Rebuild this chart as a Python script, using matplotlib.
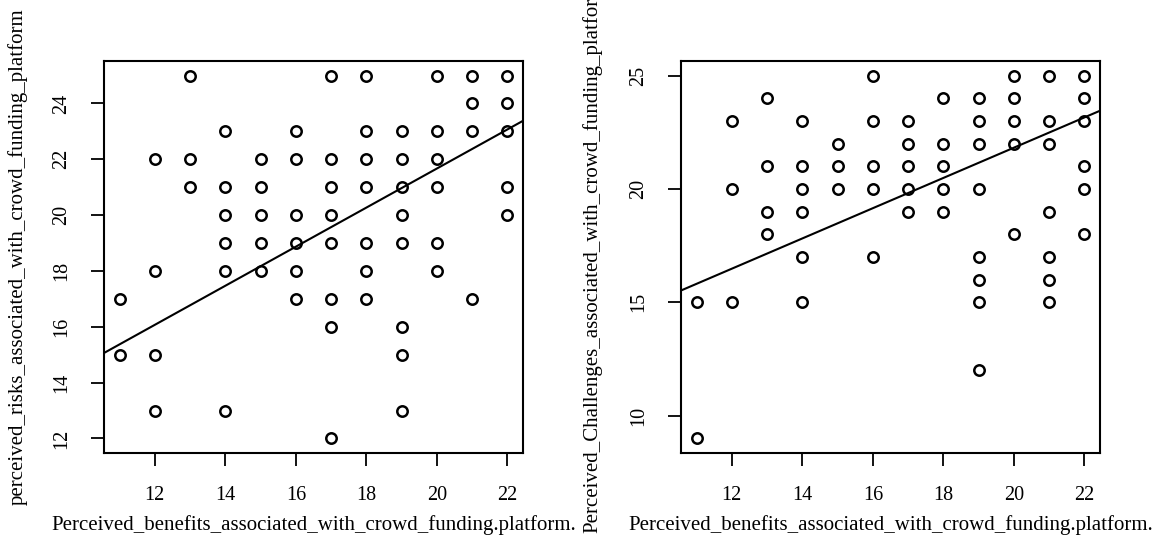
import matplotlib
matplotlib.use("Agg")
import matplotlib.pyplot as plt

plt.rcParams['font.family'] = ['Liberation Serif', 'DejaVu Serif']

# Perceived benefits (x) vs perceived risks (y), left panel
risk_x = [11, 11,
          12, 12, 12, 12,
          13, 13, 13,
          14, 14, 14, 14, 14, 14,
          15, 15, 15, 15, 15,
          16, 16, 16, 16, 16, 16,
          17, 17, 17, 17, 17, 17, 17, 17,
          18, 18, 18, 18, 18, 18, 18,
          19, 19, 19, 19, 19, 19, 19, 19,
          20, 20, 20, 20, 20, 20,
          21, 21, 21, 21,
          22, 22, 22, 22, 22]
risk_y = [17, 15,
          22, 18, 15, 13,
          25, 22, 21,
          23, 21, 20, 19, 18, 13,
          22, 21, 20, 19, 18,
          23, 22, 20, 19, 18, 17,
          25, 22, 21, 20, 19, 17, 16, 12,
          25, 23, 22, 21, 19, 18, 17,
          23, 22, 21, 20, 19, 16, 15, 13,
          25, 23, 22, 21, 19, 18,
          25, 24, 23, 17,
          25, 24, 23, 21, 20]

# Perceived benefits (x) vs perceived challenges (y), right panel
chal_x = [11, 11,
          12, 12, 12,
          13, 13, 13, 13,
          14, 14, 14, 14, 14, 14,
          15, 15, 15,
          16, 16, 16, 16, 16,
          17, 17, 17, 17, 17,
          18, 18, 18, 18, 18,
          19, 19, 19, 19, 19, 19, 19, 19,
          20, 20, 20, 20, 20,
          21, 21, 21, 21, 21, 21, 21,
          22, 22, 22, 22, 22, 22]
chal_y = [15, 9,
          23, 20, 15,
          24, 21, 19, 18,
          23, 21, 20, 19, 17, 15,
          22, 21, 20,
          25, 23, 21, 20, 17,
          23, 22, 21, 20, 19,
          24, 22, 21, 20, 19,
          24, 23, 22, 20, 17, 16, 15, 12,
          25, 24, 23, 22, 18,
          25, 23, 22, 19, 17, 16, 15,
          25, 24, 23, 21, 20, 18]

# fitted lines (intercept, slope)
risk_fit = (7.67, 0.700)
chal_fit = (8.48, 0.667)

x_label = "Perceived_benefits_associated_with_crowd_funding.platform."
panels = [
    (risk_x, risk_y, risk_fit, "perceived_risks_associated_with_crowd_funding_platform", [12, 14, 16, 18, 20, 22, 24]),
    (chal_x, chal_y, chal_fit, "Perceived_Challenges_associated_with_crowd_funding_platform", [10, 15, 20, 25]),
]

fig = plt.figure(figsize=(11.57, 5.58), dpi=100)
W, H = 1157, 558
lefts = [104, 681]
ylab_x = [18, 592]
for (xs, ys, fit, ylab, yt), left, yl in zip(panels, lefts, ylab_x):
    ax = fig.add_axes([left / W, (H - 453) / H, 419 / W, 392 / H])
    ax.plot(xs, ys, 'o', mfc='none', mec='black', ms=7.5, mew=1.8, ls='none')
    ax.axline((0, fit[0]), slope=fit[1], color='black', lw=1.5)

    xr = max(xs) - min(xs)
    yr = max(ys) - min(ys)
    ax.set_xlim(min(xs) - 0.04 * xr, max(xs) + 0.04 * xr)
    ax.set_ylim(min(ys) - 0.04 * yr, max(ys) + 0.04 * yr)
    ax.set_xticks([12, 14, 16, 18, 20, 22])
    ax.set_yticks(yt)
    ax.tick_params(length=9.5, width=1.3, labelsize=14.5, pad=14)
    for lab in ax.get_yticklabels():
        lab.set_rotation(90)
        lab.set_va('center')
    for s in ax.spines.values():
        s.set_linewidth(1.5)

    ax.set_xlabel(x_label, fontsize=15, va='center')
    ax.xaxis.set_label_coords(0.5, -(525 - 453) / 392)
    ax.set_ylabel(ylab, fontsize=15, va='center')
    ax.yaxis.set_label_coords(-(left - yl) / 419, 0.5)

plt.savefig("out.png", dpi=100)
